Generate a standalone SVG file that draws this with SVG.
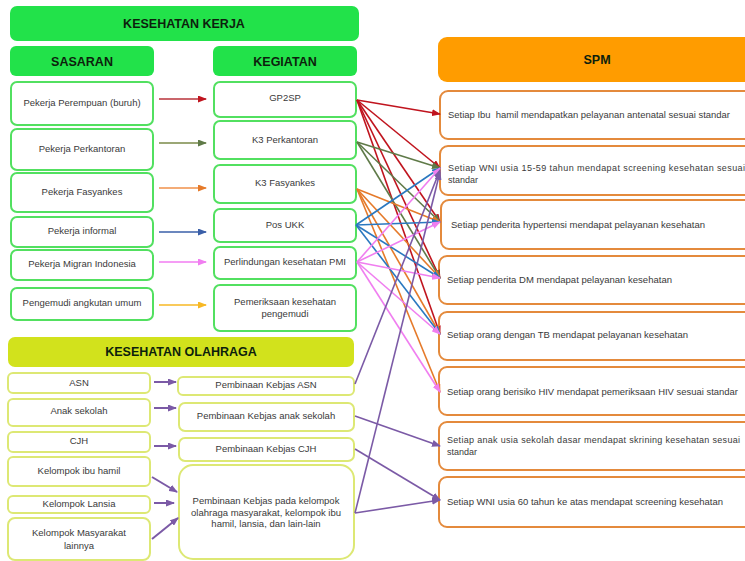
<svg xmlns="http://www.w3.org/2000/svg" width="745" height="561" viewBox="0 0 745 561">
<style>
.hg{fill:#22e24a}
.hy{fill:#d2e21c}
.ho{fill:#ff9c00}
.bg{fill:#fff;stroke:#52e060;stroke-width:2}
.by{fill:#fff;stroke:#dde874;stroke-width:2}
.bo{fill:#fff;stroke:#e48a3c;stroke-width:2}
.h{font-family:"Liberation Sans",Arial,sans-serif;font-weight:bold;font-size:12.5px;fill:#0d1f0d;text-anchor:middle}
.t{font-family:"Liberation Sans",Arial,sans-serif;font-size:9.5px;fill:#3a3a3a;text-anchor:middle}
.s{font-family:"Liberation Sans",Arial,sans-serif;font-size:9px;fill:#3a3a3a;white-space:pre}
.c{fill:none;stroke-width:1.6}
</style>
<defs>
<marker id="mR" markerWidth="9" markerHeight="7" refX="8" refY="3.5" orient="auto" markerUnits="userSpaceOnUse"><path d="M0,0L9,3.5L0,7z" fill="#c0141e"/></marker>
<marker id="mO" markerWidth="9" markerHeight="7" refX="8" refY="3.5" orient="auto" markerUnits="userSpaceOnUse"><path d="M0,0L9,3.5L0,7z" fill="#5f7a48"/></marker>
<marker id="mA" markerWidth="9" markerHeight="7" refX="8" refY="3.5" orient="auto" markerUnits="userSpaceOnUse"><path d="M0,0L9,3.5L0,7z" fill="#e57a2a"/></marker>
<marker id="mB" markerWidth="9" markerHeight="7" refX="8" refY="3.5" orient="auto" markerUnits="userSpaceOnUse"><path d="M0,0L9,3.5L0,7z" fill="#2a78c0"/></marker>
<marker id="mP" markerWidth="9" markerHeight="7" refX="8" refY="3.5" orient="auto" markerUnits="userSpaceOnUse"><path d="M0,0L9,3.5L0,7z" fill="#f07ef0"/></marker>
<marker id="mY" markerWidth="9" markerHeight="7" refX="8" refY="3.5" orient="auto" markerUnits="userSpaceOnUse"><path d="M0,0L9,3.5L0,7z" fill="#f7b824"/></marker>
<marker id="mV" markerWidth="9" markerHeight="7" refX="8" refY="3.5" orient="auto" markerUnits="userSpaceOnUse"><path d="M0,0L9,3.5L0,7z" fill="#7b5aa6"/></marker>
<marker id="mD" markerWidth="9" markerHeight="7" refX="8" refY="3.5" orient="auto" markerUnits="userSpaceOnUse"><path d="M0,0L9,3.5L0,7z" fill="#3a5fa8"/></marker>
</defs>
<rect width="745" height="561" fill="#fff"/>

<g id="hdr-kerja"><rect class="hg" x="10" y="6" width="349" height="35" rx="7"/><text class="h" x="184" y="28">KESEHATAN KERJA</text></g>
<g id="hdr-sasaran"><rect class="hg" x="10" y="46" width="144" height="30" rx="6"/><text class="h" x="82" y="66">SASARAN</text></g>
<g id="hdr-kegiatan"><rect class="hg" x="213" y="46" width="144" height="30" rx="6"/><text class="h" x="285" y="66">KEGIATAN</text></g>

<g id="s-perempuan"><rect class="bg" x="11" y="82" width="142" height="43" rx="6"/><text class="t" x="82" y="106">Pekerja Perempuan (buruh)</text></g>
<g id="s-perkantoran"><rect class="bg" x="11" y="129" width="142" height="41" rx="6"/><text class="t" x="82" y="152">Pekerja Perkantoran</text></g>
<g id="s-fasyankes"><rect class="bg" x="11" y="173" width="142" height="39" rx="6"/><text class="t" x="82" y="195">Pekerja Fasyankes</text></g>
<g id="s-informal"><rect class="bg" x="11" y="217" width="142" height="30" rx="6"/><text class="t" x="82" y="234">Pekerja informal</text></g>
<g id="s-migran"><rect class="bg" x="11" y="250" width="142" height="30" rx="6"/><text class="t" x="82" y="267">Pekerja Migran Indonesia</text></g>
<g id="s-pengemudi"><rect class="bg" x="11" y="288" width="142" height="32" rx="6"/><text class="t" x="82" y="306">Pengemudi angkutan umum</text></g>

<g id="k-gp2sp"><rect class="bg" x="214" y="82" width="142" height="35" rx="6"/><text class="t" x="285" y="101">GP2SP</text></g>
<g id="k-k3kantor"><rect class="bg" x="214" y="121" width="142" height="38" rx="6"/><text class="t" x="285" y="143">K3 Perkantoran</text></g>
<g id="k-k3fasyankes"><rect class="bg" x="214" y="165" width="142" height="38" rx="6"/><text class="t" x="285" y="186">K3 Fasyankes</text></g>
<g id="k-posukk"><rect class="bg" x="214" y="209" width="142" height="33" rx="6"/><text class="t" x="285" y="228">Pos UKK</text></g>
<g id="k-pmi"><rect class="bg" x="214" y="247" width="142" height="32" rx="6"/><text class="t" x="285" y="265">Perlindungan kesehatan PMI</text></g>
<g id="k-pemeriksaan"><rect class="bg" x="214" y="285" width="142" height="46" rx="6"/><text class="t" x="285" y="305">Pemeriksaan kesehatan</text><text class="t" x="285" y="317">pengemudi</text></g>

<g id="hdr-olahraga"><rect class="hy" x="8" y="337" width="346" height="30" rx="7"/><text class="h" x="181" y="356">KESEHATAN OLAHRAGA</text></g>
<g id="o-asn"><rect class="by" x="8" y="373" width="142" height="20" rx="5"/><text class="t" x="79" y="386">ASN</text></g>
<g id="o-anak"><rect class="by" x="8" y="399" width="142" height="27" rx="5"/><text class="t" x="79" y="414">Anak sekolah</text></g>
<g id="o-cjh"><rect class="by" x="8" y="432" width="142" height="20" rx="5"/><text class="t" x="79" y="444">CJH</text></g>
<g id="o-ibuhamil"><rect class="by" x="8" y="457" width="142" height="29" rx="5"/><text class="t" x="79" y="474">Kelompok ibu hamil</text></g>
<g id="o-lansia"><rect class="by" x="8" y="496" width="142" height="17" rx="5"/><text class="t" x="79" y="507">Kelompok Lansia</text></g>
<g id="o-masyarakat"><rect class="by" x="8" y="518" width="142" height="42" rx="7"/><text class="t" x="79" y="536">Kelompok Masyarakat</text><text class="t" x="79" y="549">lainnya</text></g>

<g id="p-asn"><rect class="by" x="178" y="377" width="176" height="18" rx="5"/><text class="t" x="266" y="388">Pembinaan Kebjas ASN</text></g>
<g id="p-anak"><rect class="by" x="179" y="403" width="175" height="28" rx="6"/><text class="t" x="266" y="419">Pembinaan Kebjas anak sekolah</text></g>
<g id="p-cjh"><rect class="by" x="179" y="438" width="175" height="23" rx="6"/><text class="t" x="266" y="452">Pembinaan Kebjas CJH</text></g>
<g id="p-kelompok"><rect class="by" x="179" y="465" width="175" height="94" rx="14"/><text class="t" x="266" y="504">Pembinaan Kebjas pada kelompok</text><text class="t" x="266" y="516">olahraga masyarakat, kelompok ibu</text><text class="t" x="266" y="527">hamil, lansia, dan lain-lain</text></g>

<g id="hdr-spm"><rect class="ho" x="438" y="37" width="330" height="45" rx="9"/><text class="h" x="597" y="64">SPM</text></g>
<g id="spm1"><rect class="bo" x="440" y="91" width="330" height="48" rx="8"/><text class="s" x="448" y="118" textLength="282" lengthAdjust="spacingAndGlyphs">Setiap Ibu  hamil mendapatkan pelayanan antenatal sesuai standar</text></g>
<g id="spm2"><rect class="bo" x="440" y="146" width="330" height="49" rx="8"/><text class="s" x="448" y="171" textLength="297" lengthAdjust="spacing">Setiap WNI usia 15-59 tahun mendapat screening kesehatan sesuai</text><text class="s" x="448" y="183">standar</text></g>
<g id="spm3"><rect class="bo" x="441" y="200" width="330" height="49" rx="8"/><text class="s" x="451" y="228" textLength="254" lengthAdjust="spacingAndGlyphs">Setiap penderita hypertensi mendapat pelayanan kesehatan</text></g>
<g id="spm4"><rect class="bo" x="439" y="256" width="330" height="48" rx="8"/><text class="s" x="447" y="283" textLength="225" lengthAdjust="spacingAndGlyphs">Setiap penderita DM mendapat pelayanan kesehatan</text></g>
<g id="spm5"><rect class="bo" x="439" y="312" width="330" height="48" rx="8"/><text class="s" x="447" y="338" textLength="241" lengthAdjust="spacingAndGlyphs">Setiap orang dengan TB mendapat pelayanan kesehatan</text></g>
<g id="spm6"><rect class="bo" x="439" y="367" width="330" height="48" rx="8"/><text class="s" x="447" y="395" textLength="291" lengthAdjust="spacingAndGlyphs">Setiap orang berisiko HIV mendapat pemeriksaan HIV sesuai standar</text></g>
<g id="spm7"><rect class="bo" x="439" y="422" width="330" height="48" rx="8"/><text class="s" x="447" y="443" textLength="293" lengthAdjust="spacing">Setiap anak usia sekolah dasar mendapat skrining kesehatan sesuai</text><text class="s" x="447" y="455">standar</text></g>
<g id="spm8"><rect class="bo" x="439" y="477" width="330" height="50" rx="8"/><text class="s" x="447" y="505" textLength="276" lengthAdjust="spacingAndGlyphs">Setiap WNI usia 60 tahun ke atas mendapat screening kesehatan</text></g>

<g id="connectors" class="c">
<line x1="159" y1="99" x2="206" y2="99" stroke="#b8323a" marker-end="url(#mR)"/>
<line x1="159" y1="143" x2="206" y2="143" stroke="#7a8a48" marker-end="url(#mO)"/>
<line x1="159" y1="188" x2="206" y2="188" stroke="#f0914a" marker-end="url(#mA)"/>
<line x1="159" y1="232" x2="206" y2="232" stroke="#3a5fa8" marker-end="url(#mD)"/>
<line x1="159" y1="262" x2="206" y2="262" stroke="#f27cf2" marker-end="url(#mP)"/>
<line x1="159" y1="305" x2="206" y2="305" stroke="#f7b824" marker-end="url(#mY)"/>

<line x1="154" y1="382" x2="176" y2="382" stroke="#7b5aa6" stroke-width="2" marker-end="url(#mV)"/>
<line x1="154" y1="408" x2="176" y2="408" stroke="#7b5aa6" stroke-width="2" marker-end="url(#mV)"/>
<line x1="154" y1="446" x2="176" y2="446" stroke="#7b5aa6" stroke-width="2" marker-end="url(#mV)"/>
<line x1="152" y1="477" x2="177" y2="492" stroke="#7b5aa6" stroke-width="2" marker-end="url(#mV)"/>
<line x1="154" y1="503" x2="174" y2="503" stroke="#7b5aa6" stroke-width="2" marker-end="url(#mV)"/>
<line x1="152" y1="539" x2="178" y2="518" stroke="#7b5aa6" stroke-width="2" marker-end="url(#mV)"/>

<g stroke="#c0141e">
<line x1="357" y1="100" x2="440" y2="114" marker-end="url(#mR)"/>
<line x1="357" y1="100" x2="440" y2="168" marker-end="url(#mR)"/>
<line x1="357" y1="100" x2="440" y2="222" marker-end="url(#mR)"/>
<line x1="357" y1="100" x2="440" y2="278" marker-end="url(#mR)"/>
<line x1="357" y1="100" x2="440" y2="334" marker-end="url(#mR)"/>
</g>
<g stroke="#5f7a48">
<line x1="357" y1="142" x2="440" y2="168" marker-end="url(#mO)"/>
<line x1="357" y1="142" x2="440" y2="222" marker-end="url(#mO)"/>
<line x1="357" y1="142" x2="440" y2="278" marker-end="url(#mO)"/>
</g>
<g stroke="#e57a2a">
<line x1="357" y1="189" x2="440" y2="222" marker-end="url(#mA)"/>
<line x1="357" y1="189" x2="440" y2="278" marker-end="url(#mA)"/>
<line x1="357" y1="189" x2="440" y2="334" marker-end="url(#mA)"/>
<line x1="357" y1="189" x2="440" y2="392" marker-end="url(#mA)"/>
</g>
<g stroke="#2a78c0">
<line x1="356" y1="225" x2="440" y2="168" marker-end="url(#mB)"/>
<line x1="356" y1="225" x2="440" y2="222" marker-end="url(#mB)"/>
<line x1="356" y1="225" x2="440" y2="278" marker-end="url(#mB)"/>
<line x1="356" y1="225" x2="440" y2="334" marker-end="url(#mB)"/>
</g>
<g stroke="#f07ef0">
<line x1="357" y1="262" x2="440" y2="168" marker-end="url(#mP)"/>
<line x1="357" y1="262" x2="440" y2="222" marker-end="url(#mP)"/>
<line x1="357" y1="262" x2="440" y2="278" marker-end="url(#mP)"/>
<line x1="357" y1="262" x2="440" y2="334" marker-end="url(#mP)"/>
<line x1="357" y1="262" x2="440" y2="392" marker-end="url(#mP)"/>
</g>
<g stroke="#7b5aa6">
<line x1="355" y1="384" x2="440" y2="170" marker-end="url(#mV)"/>
<line x1="355" y1="416" x2="440" y2="446" marker-end="url(#mV)"/>
<line x1="355" y1="449" x2="440" y2="500" marker-end="url(#mV)"/>
<line x1="355" y1="513" x2="440" y2="500" marker-end="url(#mV)"/>
<line x1="355" y1="513" x2="440" y2="172" marker-end="url(#mV)"/>
</g>
</g>
</svg>
